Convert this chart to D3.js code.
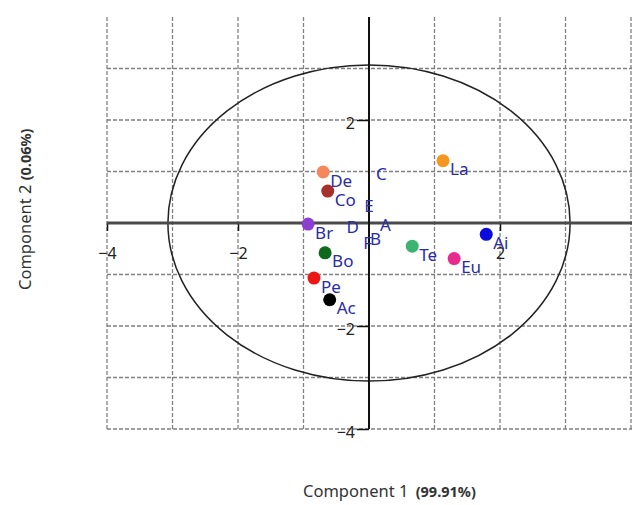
<!DOCTYPE html>
<html>
<head>
<meta charset="utf-8">
<script src="https://cdn.jsdelivr.net/npm/d3@7/dist/d3.min.js"></script>
<style>
  body { margin: 0; background: #fff; }
  text { font-family: "Noto Sans", "Open Sans", sans-serif; }
</style>
</head>
<body>
<script>
// canvas size
const width = 632;
const height = 505;

// samples (scores)
const names = ['De', 'Co', 'Br', 'Bo', 'Pe', 'Ac', 'La', 'Te', 'Eu', 'Ai'];
const pc1 = [-0.70, -0.63, -0.93, -0.67, -0.84, -0.60, 1.13, 0.66, 1.30, 1.79];
const pc2 = [0.99, 0.62, -0.02, -0.58, -1.07, -1.49, 1.21, -0.45, -0.69, -0.22];
const colors = ['#f4875c', '#a5302c', '#8b3fcc', '#0f6a1e', '#ee1515', '#000000',
  '#f5961f', '#3cb371', '#e8298e', '#0b0bdd'];

// variable labels (loadings)
const varNames = ['A', 'B', 'C', 'D', 'E', 'F'];
const varX = [0.25, 0.10, 0.19, -0.25, 0.00, -0.02];
const varY = [-0.03, -0.30, 0.96, -0.07, 0.34, -0.38];

// axis ticks
const xTicks = [-4, -2, 2];
const yTicks = [2, -2, -4];
const gridX = [-4, -3, -2, -1, 1, 2, 3, 4];
const gridY = [-4, -3, -2, -1, 1, 2, 3];

// 95% ellipse radius
const ellipseR = 3.07;

const svg = d3.select('body').append('svg')
  .attr('width', width)
  .attr('height', height);

const x = d3.scaleLinear().domain([-4, 4]).range([107, 631]);
const y = d3.scaleLinear().domain([-4, 4]).range([429, 17]);

// dashed grid
svg.append('g').selectAll('line').data(gridX).enter().append('line')
  .attr('x1', d => x(d)).attr('x2', d => x(d))
  .attr('y1', y(4)).attr('y2', y(-4))
  .attr('stroke', '#808080').attr('stroke-width', 1.3)
  .attr('stroke-dasharray', '4,2');

svg.append('g').selectAll('line').data(gridY).enter().append('line')
  .attr('x1', x(-4)).attr('x2', width)
  .attr('y1', d => y(d)).attr('y2', d => y(d))
  .attr('stroke', '#808080').attr('stroke-width', 1.3)
  .attr('stroke-dasharray', '4,2');

// ellipse
svg.append('ellipse')
  .attr('cx', x(0)).attr('cy', y(0))
  .attr('rx', x(ellipseR) - x(0))
  .attr('ry', y(0) - y(ellipseR))
  .attr('fill', 'none')
  .attr('stroke', '#222')
  .attr('stroke-width', 1.5);

// x axis
const xAxis = svg.append('g')
  .attr('transform', 'translate(0,' + y(0) + ')')
  .call(d3.axisBottom(x).tickValues(xTicks).tickSize(8).tickPadding(17));
xAxis.select('.domain').remove();
xAxis.append('line')
  .attr('x1', x(-4)).attr('x2', width)
  .attr('stroke', '#4a4a4a').attr('stroke-width', 3);

// y axis
const yAxis = svg.append('g')
  .attr('transform', 'translate(' + x(0) + ',0)')
  .call(d3.axisLeft(y).tickValues(yTicks).tickSize(12).tickPadding(2));
yAxis.select('.domain').remove();
yAxis.append('line')
  .attr('y1', y(4)).attr('y2', y(-4))
  .attr('stroke', '#111').attr('stroke-width', 2);

svg.selectAll('.tick line').attr('stroke', '#111').attr('stroke-width', 1.5);
svg.selectAll('.tick text')
  .attr('font-size', 16)
  .attr('fill', '#222')
  .style('font-family', '"Noto Sans", sans-serif');
yAxis.selectAll('.tick text').attr('dy', '0.5em');

// variable labels
svg.append('g').selectAll('text').data(varNames).enter().append('text')
  .attr('x', (d, i) => x(varX[i]))
  .attr('y', (d, i) => y(varY[i]))
  .attr('text-anchor', 'middle')
  .attr('dominant-baseline', 'central')
  .attr('font-size', 17)
  .attr('fill', '#2b2ba6')
  .text(d => d);

// sample points
svg.append('g').selectAll('circle').data(names).enter().append('circle')
  .attr('cx', (d, i) => x(pc1[i]))
  .attr('cy', (d, i) => y(pc2[i]))
  .attr('r', 6.5)
  .attr('fill', (d, i) => colors[i]);

svg.append('g').selectAll('text').data(names).enter().append('text')
  .attr('x', (d, i) => x(pc1[i]) + 7)
  .attr('y', (d, i) => y(pc2[i]) + 8)
  .attr('dominant-baseline', 'central')
  .attr('font-size', 17)
  .attr('fill', '#2b2ba6')
  .text(d => d);

// axis titles
const xt = svg.append('text')
  .attr('x', 303).attr('y', 497)
  .attr('font-size', 16.5)
  .attr('fill', '#333');
xt.append('tspan').text('Component 1 ');
xt.append('tspan').attr('font-size', 14.5).attr('font-weight', 'bold').attr('dx', 3).text('(99.91%)');

const yt = svg.append('text')
  .attr('transform', 'translate(31,290) rotate(-90)')
  .attr('font-size', 16.5)
  .attr('fill', '#333');
yt.append('tspan').text('Component 2 ');
yt.append('tspan').attr('font-size', 14.5).attr('font-weight', 'bold').text('(0.06%)');
</script>
</body>
</html>
